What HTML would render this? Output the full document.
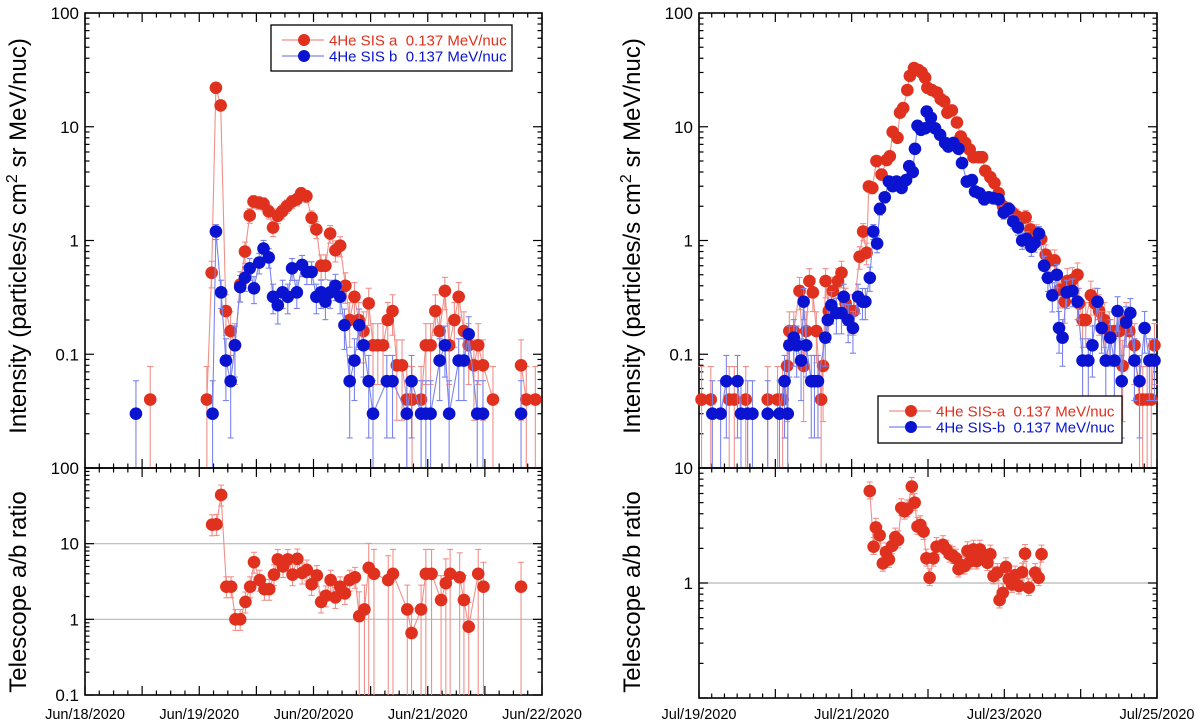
<!DOCTYPE html>
<html><head><meta charset="utf-8"><style>
body{margin:0;background:#fff;}
svg{display:block;font-family:"Liberation Sans",Arial,sans-serif;}
</style></head><body>
<svg id="chart" width="1200" height="725" viewBox="0 0 1200 725"></svg>
<script>
// ---- Data: hours since start, intensity values ----
const leftAHours=[13.7,25.6,26.6,27.5,28.5,29.6,30.6,31.5,32.6,33.6,34.6,35.4,36.5,37.5,38.6,39.5,40.5,41.4,42.4,43.5,44.5,45.4,46.5,47.6,48.6,49.6,50.5,51.5,52.6,53.6,54.7,55.6,56.6,57.5,58.5,59.6,60.5,61.5,62.6,63.6,64.6,65.5,66.6,67.6,68.7,70.6,71.6,72.6,73.6,74.5,75.6,76.5,77.6,78.5,79.6,80.6,81.7,82.6,83.6,85.7,91.6,92.7,94.6];
const leftAVals=[0.04,0.04,0.52,22,15.4,0.24,0.16,0.12,0.41,0.8,1.66,2.2,2.15,2.1,1.8,1.3,1.65,1.8,2.0,2.2,2.3,2.6,2.45,1.58,1.25,0.6,0.6,1.15,0.82,0.9,0.4,0.2,0.32,0.2,0.16,0.28,0.12,0.12,0.12,0.2,0.24,0.08,0.08,0.04,0.04,0.04,0.12,0.12,0.24,0.16,0.36,0.12,0.2,0.32,0.16,0.12,0.08,0.12,0.08,0.04,0.08,0.04,0.04];
const leftBHours=[10.7,26.8,27.5,28.6,29.6,30.6,31.5,32.6,33.6,34.6,35.5,36.6,37.5,38.6,39.5,40.5,41.5,42.6,43.5,44.5,45.6,46.6,47.6,48.6,49.6,50.5,51.5,52.6,53.6,54.5,55.6,56.6,57.6,58.5,59.6,60.5,63.4,64.6,67.6,68.6,70.6,71.6,72.6,74.5,75.6,76.5,78.5,79.6,80.6,82.4,83.6,91.6];
const leftBVals=[0.03,0.03,1.2,0.35,0.088,0.058,0.12,0.39,0.47,0.57,0.38,0.64,0.85,0.71,0.32,0.27,0.35,0.32,0.57,0.35,0.61,0.53,0.53,0.32,0.35,0.29,0.35,0.4,0.32,0.18,0.058,0.088,0.18,0.12,0.058,0.03,0.058,0.058,0.03,0.058,0.03,0.03,0.03,0.088,0.12,0.03,0.088,0.088,0.15,0.03,0.03,0.03];
const leftRatioHours=[26.7,27.6,28.6,29.7,30.7,31.6,32.6,33.7,34.7,35.5,36.7,37.7,38.7,39.7,40.5,41.6,42.6,43.6,44.6,45.6,46.6,47.6,48.7,49.6,50.6,51.6,52.6,53.6,54.6,55.6,56.7,57.6,58.7,59.6,60.7,63.7,64.7,67.7,68.6,70.6,71.6,72.8,74.8,75.8,76.7,78.7,79.6,80.6,82.6,83.7,91.6];
const leftRatioVals=[17.8,18,44,2.7,2.7,1.0,1.0,1.7,2.7,5.7,3.3,2.5,2.5,3.9,6.2,5.0,6.2,3.9,6.3,4.1,4.5,2.9,3.8,1.7,2.05,3.3,1.95,2.7,2.2,3.3,3.6,1.1,1.35,4.8,4.0,3.3,4.0,1.35,0.66,1.35,4.0,4.0,1.8,3.0,4.0,3.6,1.8,0.8,4.0,2.7,2.7];

const rightAHours=[0.8,3.7,9.5,11.1,14.7,21.6,24.7,26.3,27.7,28.4,29.8,31.6,32.9,33.7,34.7,35.8,36.9,38.4,39.0,39.8,40.8,42.1,43.7,44.8,46.1,47.4,48.6,50.5,51.6,52.7,53.4,54.5,55.8,57.4,59.0,60.0,60.9,62.4,63.2,64.2,65.5,66.3,67.6,69.0,70.0,71.1,71.8,73.2,74.8,76.0,77.1,78.1,79.5,81.1,82.3,83.7,85.1,86.3,87.9,89.0,90.0,91.6,92.9,94.2,95.6,97.1,98.5,99.8,101.1,102.7,104.2,106.1,107.6,109.0,110.4,111.8,113.5,115.0,115.8,117.4,119.0,119.5,120.6,121.6,123.2,124.5,125.8,127.4,129.0,130.6,132.2,133.2,134.3,135.3,136.9,138.5,139.5,140.9,142.2,143.2];
const rightAVals=[0.04,0.04,0.04,0.04,0.04,0.04,0.04,0.04,0.079,0.16,0.16,0.36,0.079,0.16,0.44,0.35,0.16,0.04,0.079,0.44,0.24,0.36,0.44,0.52,0.28,0.24,0.24,0.72,1.2,0.78,2.99,2.9,5.0,3.8,5.1,5.5,9.0,8.0,13.3,14.6,21,28,32.8,31.5,30,27,22,21,20,17.5,16.7,13.3,13.9,10.9,8.2,7.2,6.3,5.4,5.4,5.4,4.1,3.6,3.2,2.6,2.0,1.9,1.76,1.64,1.54,1.6,1.25,1.17,1.03,0.75,0.67,0.67,0.37,0.29,0.44,0.45,0.5,0.28,0.2,0.2,0.33,0.28,0.24,0.2,0.16,0.16,0.16,0.079,0.2,0.16,0.12,0.04,0.04,0.04,0.04,0.12];
const rightBHours=[4.2,6.8,8.6,12.1,13.2,15.3,16.8,21.6,25.3,26.9,27.9,28.4,29.8,30.7,32.1,32.9,33.7,35.3,36.3,37.4,39.7,40.5,41.6,43.2,44.8,45.5,46.9,48.4,50.0,51.4,52.3,53.7,54.8,56.0,56.9,58.4,59.7,60.9,62.1,63.7,65.1,66.1,67.2,67.9,68.7,69.8,71.1,71.6,72.9,74.2,75.8,77.4,78.4,80.0,81.6,82.7,84.2,85.8,86.8,88.2,89.7,91.1,92.6,94.2,95.8,97.4,98.8,100.3,101.6,103.0,104.5,105.5,106.9,108.5,109.7,111.1,112.5,113.2,114.3,115.6,117.4,119.0,120.6,122.4,123.7,125.3,126.6,127.9,129.3,130.6,131.6,132.9,134.3,135.6,136.9,138.5,140.1,141.6,143.2];
const rightBVals=[0.03,0.03,0.058,0.058,0.03,0.03,0.03,0.03,0.03,0.058,0.03,0.12,0.14,0.12,0.088,0.29,0.12,0.058,0.058,0.058,0.14,0.2,0.27,0.23,0.23,0.32,0.2,0.17,0.32,0.29,0.29,0.47,1.2,0.94,1.9,2.4,3.3,3.0,3.3,2.9,3.4,4.5,4.0,6.4,10.2,9.4,9.7,13.6,12.0,9.7,8.5,7.2,6.7,7.2,6.4,4.8,3.3,3.4,2.7,2.6,2.3,2.4,2.35,2.3,1.76,1.9,1.47,1.3,1.0,1.03,0.88,0.95,1.15,0.6,0.47,0.33,0.5,0.17,0.14,0.35,0.36,0.29,0.088,0.088,0.12,0.29,0.17,0.088,0.14,0.088,0.24,0.058,0.19,0.23,0.088,0.058,0.17,0.088,0.088];
const rightRatioHours=[53.7,54.9,55.6,56.8,57.8,58.8,59.7,60.7,61.7,62.6,63.6,64.6,65.5,66.9,67.8,68.7,69.6,70.6,71.5,72.5,73.7,74.7,76.7,77.7,78.8,79.8,80.8,81.6,82.6,83.5,84.4,85.4,86.3,87.3,88.3,89.2,90.7,91.6,92.6,93.8,94.5,95.5,96.5,97.4,98.4,99.4,100.6,101.6,102.5,103.7,105.7,106.8,107.7];
const rightRatioVals=[6.3,2.07,3.04,2.6,1.48,1.86,1.6,2.1,2.5,2.37,4.5,4.2,4.4,6.9,5.0,3.1,3.2,2.8,1.64,1.11,1.64,2.07,2.15,1.96,1.78,1.73,1.64,1.32,1.43,1.4,1.9,1.55,1.96,1.55,1.96,1.78,1.5,1.78,1.15,1.23,0.71,0.82,1.38,1.08,0.97,1.17,0.94,1.24,1.8,0.91,1.23,1.11,1.78];

const leftXLabels=["Jun/18/2020","Jun/19/2020","Jun/20/2020","Jun/21/2020","Jun/22/2020"];
const rightXLabels=["Jul/19/2020","Jul/21/2020","Jul/23/2020","Jul/25/2020"];

const NS="http://www.w3.org/2000/svg";
const svg=document.getElementById('chart');
const RED="#e0301e",RED_L="#f0908a",BLUE="#0a14d0",BLUE_L="#7a84ee";
function mk(tag,attrs,parent){const e=document.createElementNS(NS,tag);for(const k in attrs)e.setAttribute(k,attrs[k]);(parent||svg).appendChild(e);return e;}

function panel(p){
  const g=mk('g',{});
  
  
  const X=h=>p.x0+(h/p.hmax)*(p.x1-p.x0);
  const Y=v=>p.y1-(Math.log10(v)-p.lmin)/(p.lmax-p.lmin)*(p.y1-p.y0);
  p.X=X;p.Y=Y;
  (p.grid||[]).forEach(v=>{const l=mk('line',{x1:p.x0,x2:p.x1,y1:Y(v),y2:Y(v),stroke:'#b8b8b8','stroke-width':1.2},g);
    });
  const tg=mk('g',{stroke:'#000','stroke-width':1.2},g);
  for(let d=p.lmin;d<p.lmax;d++){for(let m=1;m<10;m++){const v=m*Math.pow(10,d);const y=Y(v);const L=m==1?9:4.5;
    mk('line',{x1:p.x0,x2:p.x0+L,y1:y,y2:y},tg);mk('line',{x1:p.x1,x2:p.x1-L,y1:y,y2:y},tg);}}
  for(let h=0;h<=p.hmax+0.01;h+=p.minor){const x=X(h);const maj=Math.abs(h/p.major-Math.round(h/p.major))<1e-6;const L=maj?9:4.5;
    mk('line',{x1:x,x2:x,y1:p.y1,y2:p.y1-L},tg);mk('line',{x1:x,x2:x,y1:p.y0,y2:p.y0+L},tg);}
  const f=mk('rect',{x:p.x0,y:p.y0,width:p.x1-p.x0,height:p.y1-p.y0,fill:'none',stroke:'#000','stroke-width':1.6},g);
  
  p.ylabels.forEach(([v,t])=>{const e=mk('text',{x:p.x0-6,y:Y(v)+6,'text-anchor':'end','font-size':17},g);e.textContent=t;
    });
  return g;
}
function series(p,hours,vals,col,lcol,base,errFn,name){
  const g=mk('g',{});
  
  
  const clipMin=Math.pow(10,p.lmin);
  hours.forEach((h,i)=>{const v=vals[i];const [lo,hi]=errFn(v,h);const x=p.X(h);
    const yl=lo>clipMin?p.Y(lo):p.y1;const yh=p.Y(Math.min(hi,Math.pow(10,p.lmax)));
    mk('line',{x1:x,x2:x,y1:yl,y2:yh,stroke:lcol,'stroke-width':1.1},g);
    mk('line',{x1:x-3,x2:x+3,y1:yh,y2:yh,stroke:lcol,'stroke-width':1.1},g);
    if(lo>clipMin)mk('line',{x1:x-3,x2:x+3,y1:yl,y2:yl,stroke:lcol,'stroke-width':1.1},g);});
  let d='';hours.forEach((h,i)=>{const cmd=(i>0&&h-hours[i-1]<4)?'L':'M';d+=cmd+p.X(h).toFixed(1)+','+p.Y(vals[i]).toFixed(1);});
  mk('path',{d:d,fill:'none',stroke:lcol,'stroke-width':1.1},g);
  hours.forEach((h,i)=>{const c=mk('circle',{cx:p.X(h),cy:p.Y(vals[i]),r:6.3,fill:col},g);
    });
}
function cntErr(base){return v=>{const r=0.95*Math.sqrt(base/v);return [v*(1-r),v*(1+r)];};}

const LT={name:'left-intensity-panel',x0:85,x1:542,y0:13,y1:468,lmin:-2,lmax:2,hmax:96,major:12,minor:3,
  ylabels:[[100,'100'],[10,'10'],[1,'1'],[0.1,'0.1'],[0.01,'100']]};
panel(LT);
series(LT,leftAHours,leftAVals,RED,RED_L,0.04,cntErr(0.04),'series-sis-a-left');
series(LT,leftBHours,leftBVals,BLUE,BLUE_L,0.03,cntErr(0.03),'series-sis-b-left');
const LB={name:'left-ratio-panel',x0:85,x1:542,y0:468,y1:695,lmin:-1,lmax:2,hmax:96,major:12,minor:3,grid:[10,1],
  ylabels:[[10,'10'],[1,'1'],[0.1,'0.1']]};
panel(LB);
series(LB,leftRatioHours,leftRatioVals,RED,RED_L,0,(v,h)=>h<57?[v/1.4,v*1.35]:[0.01,v*2.1],'series-ratio-left');
const RT={name:'right-intensity-panel',x0:699,x1:1157,y0:13,y1:468,lmin:-2,lmax:2,hmax:144,major:24,minor:4,
  ylabels:[[100,'100'],[10,'10'],[1,'1'],[0.1,'0.1'],[0.01,'10']]};
panel(RT);
series(RT,rightAHours,rightAVals,RED,RED_L,0.04,cntErr(0.04),'series-sis-a-right');
series(RT,rightBHours,rightBVals,BLUE,BLUE_L,0.03,cntErr(0.03),'series-sis-b-right');
const RB={name:'right-ratio-panel',x0:699,x1:1157,y0:468,y1:698,lmin:-1,lmax:1,hmax:144,major:24,minor:4,grid:[1],
  ylabels:[[1,'1']]};
panel(RB);
series(RB,rightRatioHours,rightRatioVals,RED,RED_L,0,v=>[v/1.17,v*1.2],'series-ratio-right');

leftXLabels.forEach((t,i)=>{const e=mk('text',{x:LB.X(i*24),y:719,'text-anchor':'middle','font-size':14.5});e.textContent=t;
  });
rightXLabels.forEach((t,i)=>{const e=mk('text',{x:RB.X(i*48),y:719,'text-anchor':'middle','font-size':14.5});e.textContent=t;
  });

function ytitle(x,y,txt,name,sup){const e=mk('text',{x:x,y:y,'text-anchor':'middle','font-size':24,transform:`rotate(-90 ${x} ${y})`});
  
  if(sup){e.appendChild(document.createTextNode('Intensity (particles/s cm'));const s=mk('tspan',{'font-size':16,dy:-9},e);s.textContent='2';
    const r=mk('tspan',{dy:9},e);r.textContent=' sr MeV/nuc)';}else e.textContent=txt;}
ytitle(26,236,'','y-axis-title-intensity-left',true);
ytitle(26,592,'Telescope a/b ratio','y-axis-title-ratio-left',false);
ytitle(640,236,'','y-axis-title-intensity-right',true);
ytitle(640,592,'Telescope a/b ratio','y-axis-title-ratio-right',false);

function legend(x,y,w,h,la,lb,name){const g=mk('g',{});
  mk('rect',{x:x,y:y,width:w,height:h,fill:'#fff',stroke:'#000','stroke-width':1.3},g);
  [[la,RED,RED_L,y+15],[lb,BLUE,BLUE_L,y+31]].forEach(([t,c,lc,yy])=>{
    mk('line',{x1:x+11,x2:x+53,y1:yy,y2:yy,stroke:lc,'stroke-width':1.2},g);
    mk('circle',{cx:x+33,cy:yy,r:6,fill:c},g);
    const e=mk('text',{x:x+58,y:yy+5.5,'font-size':15,fill:c},g);e.textContent=t;
    });}
legend(271,25,241,46,'4He SIS a  0.137 MeV/nuc','4He SIS b  0.137 MeV/nuc','legend-left');
legend(878,396,244,47,'4He SIS-a  0.137 MeV/nuc','4He SIS-b  0.137 MeV/nuc','legend-right');
document.querySelectorAll('text').forEach(t=>t.style.whiteSpace='pre');
</script>
</body></html>
